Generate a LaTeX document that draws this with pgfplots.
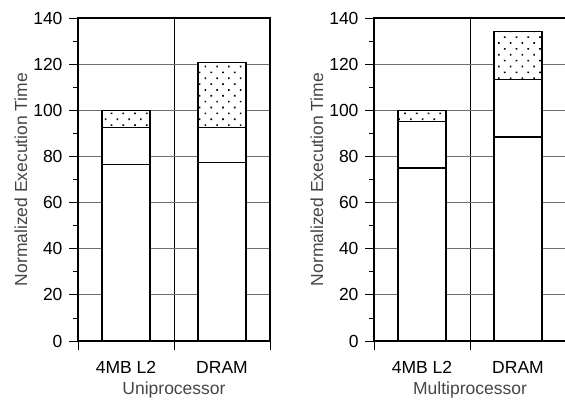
\documentclass[border=0pt]{standalone}
\usepackage{fontspec}
\setmainfont{Liberation Sans}
\usepackage{pgfplots}
\pgfplotsset{compat=1.18}
\usetikzlibrary{patterns.meta}

\definecolor{gridgray}{RGB}{110,110,110}
\definecolor{labelgray}{RGB}{70,70,70}

\pgfplotsset{
  memaxis/.style={
    width=192bp, height=323bp, scale only axis,
    xmin=0, xmax=2, ymin=0, ymax=140,
    ybar stacked, bar width=48bp,
    ytick={0,20,...,140}, minor y tick num=1,
    ytick pos=left, xtick pos=bottom,
    tick align=outside,
    major tick length=9bp, minor tick length=5bp,
    tick style={black, line width=0.8bp},
    xtick={0,1,2}, xticklabels={},
    extra x ticks={0.5,1.5},
    extra x tick labels={4MB L2,DRAM},
    extra x tick style={major tick length=0pt, grid=none,
      xticklabel style={yshift=-17bp}},
    xmajorgrids=true, ymajorgrids=true,
    x grid style={black, line width=0.8bp},
    y grid style={gridgray, line width=0.9bp},
    axis line style={black, line width=1.2bp},
    /pgf/number format/assume math mode=true,
    tick label style={black},
    yticklabel style={xshift=-3bp},
    label style={labelgray},
    ylabel={Normalized Execution Time},
    ylabel style={at={(axis description cs:-0.297,0.5)}, anchor=center, rotate=0},
    xlabel style={at={(axis description cs:0.5,-0.152)}, anchor=center},
    every axis plot/.append style={draw=black, line width=1.2bp},
  },
  dotfill/.style={fill=white, postaction={pattern={Dots[distance=8.3bp, angle=45, radius=1.15bp]}, pattern color=black}},
}

\begin{document}
\begin{tikzpicture}[font=\fontsize{17.5bp}{20bp}\selectfont]
\begin{axis}[memaxis, at={(78bp,60bp)}, anchor=south west, xlabel={Uniprocessor}]
\addplot[fill=white] coordinates {(0.5,76.5) (1.5,77.2)};
\addplot[fill=white] coordinates {(0.5,16.0) (1.5,15.3)};
\addplot[dotfill] coordinates {(0.5,7.5) (1.5,28.2)};
\end{axis}
\begin{axis}[memaxis, at={(374bp,60bp)}, anchor=south west, xlabel={Multiprocessor}]
\addplot[fill=white] coordinates {(0.5,75.0) (1.5,88.4)};
\addplot[fill=white] coordinates {(0.5,20.2) (1.5,24.9)};
\addplot[dotfill] coordinates {(0.5,4.8) (1.5,20.9)};
\end{axis}
\pgfresetboundingbox
\path[use as bounding box] (0,0) rectangle (565bp,401bp);
\end{tikzpicture}
\end{document}
